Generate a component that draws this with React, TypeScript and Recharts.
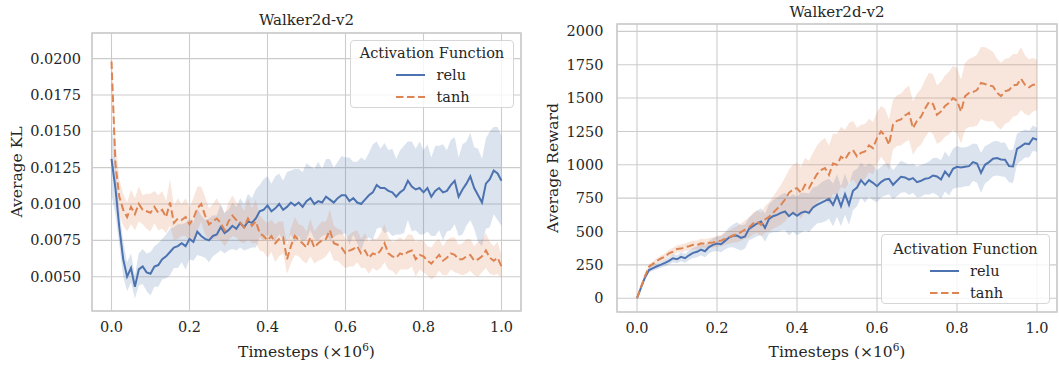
import React from 'react';
import { ComposedChart, Line, Area, XAxis, YAxis, CartesianGrid, ReferenceArea } from 'recharts';

const FONT = '"DejaVu Serif", "Liberation Serif", serif';
const TEXT = '#262626';
const GRID = '#cccccc';
const BLUE = '#4c72b0';
const ORANGE = '#dd8452';

const timesteps = [
  0, 0.01, 0.02, 0.03, 0.04, 0.05, 0.06, 0.07, 0.08, 0.09,
  0.1, 0.11, 0.12, 0.13, 0.14, 0.15, 0.16, 0.17, 0.18, 0.19,
  0.2, 0.21, 0.22, 0.23, 0.24, 0.25, 0.26, 0.27, 0.28, 0.29,
  0.3, 0.31, 0.32, 0.33, 0.34, 0.35, 0.36, 0.37, 0.38, 0.39,
  0.4, 0.41, 0.42, 0.43, 0.44, 0.45, 0.46, 0.47, 0.48, 0.49,
  0.5, 0.51, 0.52, 0.53, 0.54, 0.55, 0.56, 0.57, 0.58, 0.59,
  0.6, 0.61, 0.62, 0.63, 0.64, 0.65, 0.66, 0.67, 0.68, 0.69,
  0.7, 0.71, 0.72, 0.73, 0.74, 0.75, 0.76, 0.77, 0.78, 0.79,
  0.8, 0.81, 0.82, 0.83, 0.84, 0.85, 0.86, 0.87, 0.88, 0.89,
  0.9, 0.91, 0.92, 0.93, 0.94, 0.95, 0.96, 0.97, 0.98, 0.99, 1.0,
];

const seriesNames = ['relu', 'tanh'];
const xTicks = [0, 0.2, 0.4, 0.6, 0.8, 1.0];
const klTicks = [0.005, 0.0075, 0.01, 0.0125, 0.015, 0.0175, 0.02];
const rewardTicks = [0, 250, 500, 750, 1000, 1250, 1500, 1750, 2000];

// Left panel: Average KL
const klRelu = [
  0.0131, 0.0111, 0.0084, 0.0062, 0.0050, 0.0056, 0.0043, 0.0055, 0.0057, 0.0053,
  0.0052, 0.0057, 0.0058, 0.0062, 0.0064, 0.0067, 0.0070, 0.0071, 0.0073, 0.0071,
  0.0076, 0.0074, 0.0081, 0.0078, 0.0076, 0.0075, 0.0078, 0.0079, 0.0084, 0.0080,
  0.0082, 0.0085, 0.0083, 0.0087, 0.0084, 0.0088, 0.0087, 0.0090, 0.0095, 0.0096,
  0.0099, 0.0095, 0.0097, 0.0100, 0.0096, 0.0098, 0.0101, 0.0099, 0.0101, 0.0098,
  0.0102, 0.0104, 0.0100, 0.0102, 0.0101, 0.0105, 0.0103, 0.0101, 0.0104, 0.0106,
  0.0106, 0.0102, 0.0104, 0.0101, 0.0100, 0.0103, 0.0106, 0.0108, 0.0113, 0.0111,
  0.0111, 0.0109, 0.0108, 0.0105, 0.0108, 0.0110, 0.0116, 0.0112, 0.0110, 0.0111,
  0.0108, 0.0111, 0.0105, 0.0109, 0.0111, 0.0108, 0.0109, 0.0113, 0.0116, 0.0105,
  0.0110, 0.0114, 0.0119, 0.0111, 0.0106, 0.0101, 0.0114, 0.0117, 0.0123, 0.0121, 0.0116,
];
const klReluCi = [
  0.0025, 0.0018, 0.0012, 0.0012, 0.0010, 0.0010, 0.0008, 0.0011, 0.0012, 0.0013,
  0.0015, 0.0014, 0.0015, 0.0014, 0.0015, 0.0016, 0.0014, 0.0015, 0.0013, 0.0016,
  0.0014, 0.0013, 0.0016, 0.0014, 0.0013, 0.0015, 0.0014, 0.0013, 0.0016, 0.0014,
  0.0014, 0.0016, 0.0015, 0.0017, 0.0016, 0.0019, 0.0017, 0.0020, 0.0018, 0.0021,
  0.0020, 0.0019, 0.0022, 0.0021, 0.0020, 0.0024, 0.0022, 0.0025, 0.0023, 0.0024,
  0.0026, 0.0022, 0.0024, 0.0027, 0.0023, 0.0026, 0.0028, 0.0024, 0.0025, 0.0027,
  0.0026, 0.0030, 0.0025, 0.0028, 0.0032, 0.0027, 0.0029, 0.0033, 0.0030, 0.0027,
  0.0031, 0.0028, 0.0030, 0.0026, 0.0029, 0.0030, 0.0027, 0.0031, 0.0028, 0.0032,
  0.0029, 0.0030, 0.0027, 0.0031, 0.0029, 0.0033, 0.0028, 0.0031, 0.0030, 0.0027,
  0.0031, 0.0029, 0.0030, 0.0028, 0.0032, 0.0030, 0.0031, 0.0033, 0.0030, 0.0032, 0.0031,
];
const klTanh = [
  0.0198, 0.0128, 0.0105, 0.0096, 0.0091, 0.0098, 0.0093, 0.0100, 0.0096, 0.0095,
  0.0094, 0.0098, 0.0094, 0.0096, 0.0091, 0.0101, 0.0087, 0.0090, 0.0089, 0.0091,
  0.0086, 0.0090, 0.0097, 0.0100, 0.0092, 0.0086, 0.0088, 0.0090, 0.0087, 0.0082,
  0.0088, 0.0092, 0.0089, 0.0087, 0.0084, 0.0090, 0.0085, 0.0088, 0.0080, 0.0078,
  0.0075, 0.0078, 0.0073, 0.0076, 0.0077, 0.0062, 0.0071, 0.0078, 0.0075, 0.0073,
  0.0070, 0.0077, 0.0070, 0.0073, 0.0075, 0.0076, 0.0082, 0.0073, 0.0072, 0.0070,
  0.0066, 0.0068, 0.0069, 0.0071, 0.0066, 0.0068, 0.0063, 0.0066, 0.0065, 0.0068,
  0.0073, 0.0066, 0.0064, 0.0063, 0.0066, 0.0065, 0.0067, 0.0068, 0.0062, 0.0065,
  0.0064, 0.0061, 0.0059, 0.0062, 0.0065, 0.0061, 0.0063, 0.0066, 0.0065, 0.0062,
  0.0062, 0.0064, 0.0065, 0.0061, 0.0062, 0.0064, 0.0068, 0.0063, 0.0061, 0.0063, 0.0057,
];
const klTanhCi = [
  0.0012, 0.0016, 0.0012, 0.0011, 0.0010, 0.0012, 0.0011, 0.0012, 0.0010, 0.0012,
  0.0013, 0.0011, 0.0012, 0.0013, 0.0011, 0.0016, 0.0012, 0.0014, 0.0011, 0.0013,
  0.0012, 0.0014, 0.0015, 0.0012, 0.0013, 0.0011, 0.0012, 0.0014, 0.0012, 0.0011,
  0.0013, 0.0014, 0.0012, 0.0013, 0.0011, 0.0014, 0.0012, 0.0015, 0.0012, 0.0011,
  0.0012, 0.0011, 0.0013, 0.0012, 0.0011, 0.0010, 0.0012, 0.0013, 0.0011, 0.0012,
  0.0011, 0.0013, 0.0011, 0.0012, 0.0013, 0.0012, 0.0014, 0.0012, 0.0011, 0.0012,
  0.0010, 0.0011, 0.0012, 0.0011, 0.0010, 0.0012, 0.0011, 0.0010, 0.0011, 0.0012,
  0.0013, 0.0011, 0.0010, 0.0012, 0.0011, 0.0010, 0.0012, 0.0011, 0.0012, 0.0010,
  0.0011, 0.0010, 0.0011, 0.0012, 0.0011, 0.0010, 0.0012, 0.0011, 0.0012, 0.0010,
  0.0011, 0.0012, 0.0011, 0.0010, 0.0012, 0.0011, 0.0012, 0.0011, 0.0010, 0.0011, 0.0008,
];

// Right panel: Average Reward
const rewardRelu = [
  0, 80, 156, 211, 226, 240, 252, 265, 280, 300,
  292, 310, 300, 322, 340, 348, 365, 352, 383, 400,
  410, 405, 430, 455, 468, 470, 452, 463, 520, 540,
  560, 575, 528, 595, 615, 625, 640, 650, 615, 640,
  618, 640, 650, 640, 680, 700, 715, 730, 745, 700,
  770, 690, 780, 700, 805, 830, 885, 850, 885, 865,
  840, 870, 890, 895, 850, 880, 910, 905, 888, 900,
  870, 880, 895, 900, 920, 913, 890, 950, 915, 970,
  985, 980, 985, 990, 1020, 1010, 940, 1000, 1020, 1045,
  1050, 1040, 1038, 990, 988, 1120, 1138, 1160, 1155, 1200, 1188,
];
const rewardReluCi = [
  4, 10, 14, 18, 20, 22, 24, 26, 28, 30,
  30, 32, 34, 36, 38, 40, 42, 44, 46, 50,
  55, 60, 65, 75, 85, 100, 95, 90, 85, 90,
  95, 100, 105, 110, 120, 130, 135, 140, 145, 140,
  145, 150, 140, 145, 150, 140, 150, 155, 150, 160,
  160, 150, 155, 150, 145, 140, 130, 135, 125, 130,
  120, 115, 120, 115, 110, 115, 120, 110, 115, 110,
  115, 120, 115, 125, 130, 140, 145, 150, 145, 150,
  155, 150, 145, 150, 140, 145, 150, 140, 135, 130,
  130, 125, 130, 120, 125, 115, 110, 105, 100, 95, 90,
];
const rewardTanh = [
  0, 85, 165, 236, 258, 281, 298, 312, 337, 350,
  369, 372, 382, 390, 400, 398, 412, 408, 415, 418,
  425, 432, 445, 458, 470, 480, 495, 515, 530, 560,
  575, 550, 590, 610, 640, 670, 700, 740, 790, 815,
  825, 790, 850, 825, 880, 930, 960, 975, 925, 1010,
  1000, 1060, 1040, 1088, 1110, 1063, 1090, 1100, 1145, 1125,
  1200, 1250, 1220, 1150, 1300, 1330, 1340, 1370, 1390, 1275,
  1330, 1360, 1420, 1470, 1455, 1375, 1400, 1440, 1463, 1500,
  1480, 1400, 1513, 1538, 1545, 1560, 1613, 1605, 1595, 1588,
  1540, 1515, 1550, 1560, 1595, 1600, 1645, 1600, 1580, 1600, 1598,
];
const rewardTanhCi = [
  4, 10, 14, 16, 18, 20, 22, 24, 26, 28,
  28, 30, 30, 32, 32, 34, 34, 36, 36, 38,
  40, 42, 45, 50, 55, 60, 65, 70, 75, 80,
  85, 90, 100, 110, 120, 135, 150, 165, 175, 185,
  190, 195, 200, 205, 210, 215, 220, 225, 220, 225,
  230, 225, 220, 225, 220, 215, 210, 205, 200, 195,
  195, 190, 200, 190, 185, 190, 195, 200, 205, 200,
  205, 210, 215, 220, 225, 220, 225, 230, 235, 240,
  245, 240, 250, 255, 260, 265, 270, 275, 270, 260,
  255, 250, 245, 240, 235, 230, 235, 220, 210, 200, 190,
];

function buildRows(a: number[], aCi: number[], b: number[], bCi: number[]) {
  return timesteps.map((t, i) => ({
    t,
    relu: a[i],
    tanh: b[i],
    reluBand: [a[i] - aCi[i], a[i] + aCi[i]],
    tanhBand: [b[i] - bCi[i], b[i] + bCi[i]],
  }));
}

const klRows = buildRows(klRelu, klReluCi, klTanh, klTanhCi);
const rewardRows = buildRows(rewardRelu, rewardReluCi, rewardTanh, rewardTanhCi);

const tickStyle = { fill: TEXT, fontSize: 14.5, fontFamily: FONT };

function Centered({ x, y, rotate, size = 15.5, children }: any) {
  return (
    <div
      style={{
        position: 'absolute',
        left: x,
        top: y,
        transform: `translate(-50%, -50%)${rotate ? ' rotate(-90deg)' : ''}`,
        whiteSpace: 'nowrap',
        fontFamily: FONT,
        fontSize: size,
        color: TEXT,
        lineHeight: 1,
      }}
    >
      {children}
    </div>
  );
}

function LegendBox({ left, top, width, height, padTop }: any) {
  const colors = [BLUE, ORANGE];
  const dashes = [undefined, '7.5 3.5'];
  return (
    <div
      style={{
        position: 'absolute',
        left,
        top,
        width,
        height,
        boxSizing: 'border-box',
        border: '1px solid #d6d6d6',
        borderRadius: 4,
        background: 'rgba(255,255,255,0.8)',
        fontFamily: FONT,
        fontSize: 14.5,
        color: TEXT,
      }}
    >
      <div style={{ textAlign: 'center', lineHeight: '22px', marginTop: padTop }}>Activation Function</div>
      <div style={{ display: 'flex', flexDirection: 'column', alignItems: 'center' }}>
        <div style={{ width: 74, marginLeft: 2 }}>
          {seriesNames.map((name, i) => (
            <div key={name} style={{ display: 'flex', alignItems: 'center', height: 22 }}>
              <svg width={29} height={6} style={{ display: 'block' }}>
                <line x1={0} y1={3} x2={29} y2={3} stroke={colors[i]} strokeWidth={2} strokeDasharray={dashes[i]} />
              </svg>
              <span style={{ marginLeft: 11.5, lineHeight: '22px' }}>{name}</span>
            </div>
          ))}
        </div>
      </div>
    </div>
  );
}

function Panel({ left, width, height, margin, yAxisWidth, xAxisHeight, rows, yDomain, yTicks, yFmt, yTickMargin }: any) {
  return (
    <div style={{ position: 'absolute', left, top: 0, width, height }}>
      <ComposedChart width={width} height={height} data={rows} margin={margin}>
        <CartesianGrid stroke={GRID} strokeWidth={1.1} />
        <XAxis
          dataKey="t"
          type="number"
          domain={[-0.05, 1.05]}
          ticks={xTicks}
          tickFormatter={(v: number) => v.toFixed(1)}
          axisLine={false}
          tickLine={false}
          tickSize={0}
          tickMargin={11}
          height={xAxisHeight}
          allowDataOverflow
          interval={0}
          tick={tickStyle}
        />
        <YAxis
          type="number"
          domain={yDomain}
          ticks={yTicks}
          tickFormatter={yFmt}
          axisLine={false}
          tickLine={false}
          tickSize={0}
          tickMargin={yTickMargin}
          width={yAxisWidth}
          allowDataOverflow
          interval={0}
          tick={tickStyle}
        />
        <Area type="linear" dataKey="reluBand" stroke="none" fill={BLUE} fillOpacity={0.2} dot={false} activeDot={false} isAnimationActive={false} />
        <Area type="linear" dataKey="tanhBand" stroke="none" fill={ORANGE} fillOpacity={0.2} dot={false} activeDot={false} isAnimationActive={false} />
        <Line type="linear" dataKey="relu" stroke={BLUE} strokeWidth={2} dot={false} activeDot={false} isAnimationActive={false} />
        <Line type="linear" dataKey="tanh" stroke={ORANGE} strokeWidth={2} strokeDasharray="7.5 3.5" dot={false} activeDot={false} isAnimationActive={false} />
        <ReferenceArea x1={-0.05} x2={1.05} y1={yDomain[0]} y2={yDomain[1]} fill="none" stroke={GRID} strokeWidth={1.6} ifOverflow="visible" />
      </ComposedChart>
    </div>
  );
}

export default function App() {
  const sixth = <sup style={{ fontSize: 10.5, verticalAlign: 'super', lineHeight: 0 }}>6</sup>;
  return (
    <div style={{ position: 'absolute', left: 0, top: 0, width: 1059, height: 365, background: '#ffffff', overflow: 'hidden' }}>
      <Panel
        left={0}
        width={530}
        height={365}
        margin={{ top: 33, right: 9, bottom: 0, left: 0 }}
        yAxisWidth={92}
        xAxisHeight={54}
        rows={klRows}
        yDomain={[0.00264, 0.02176]}
        yTicks={klTicks}
        yFmt={(v: number) => v.toFixed(4)}
        yTickMargin={11}
      />
      <Panel
        left={530}
        width={529}
        height={365}
        margin={{ top: 24, right: 2, bottom: 0, left: 0 }}
        yAxisWidth={87}
        xAxisHeight={53}
        rows={rewardRows}
        yDomain={[-103, 2055]}
        yTicks={rewardTicks}
        yFmt={(v: number) => String(v)}
        yTickMargin={13.5}
      />
      <Centered x={306.5} y={20} size={15}>Walker2d-v2</Centered>
      <Centered x={837} y={12} size={15}>Walker2d-v2</Centered>
      <Centered x={17.5} y={172} rotate>Average KL</Centered>
      <Centered x={553.5} y={168} rotate>Average Reward</Centered>
      <Centered x={306.5} y={353}>Timesteps (×10{sixth})</Centered>
      <Centered x={837} y={353}>Timesteps (×10{sixth})</Centered>
      <LegendBox left={350} top={40} width={164} height={68} padTop={1} />
      <LegendBox left={881} top={234} width={169} height={70} padTop={2.5} />
    </div>
  );
}
